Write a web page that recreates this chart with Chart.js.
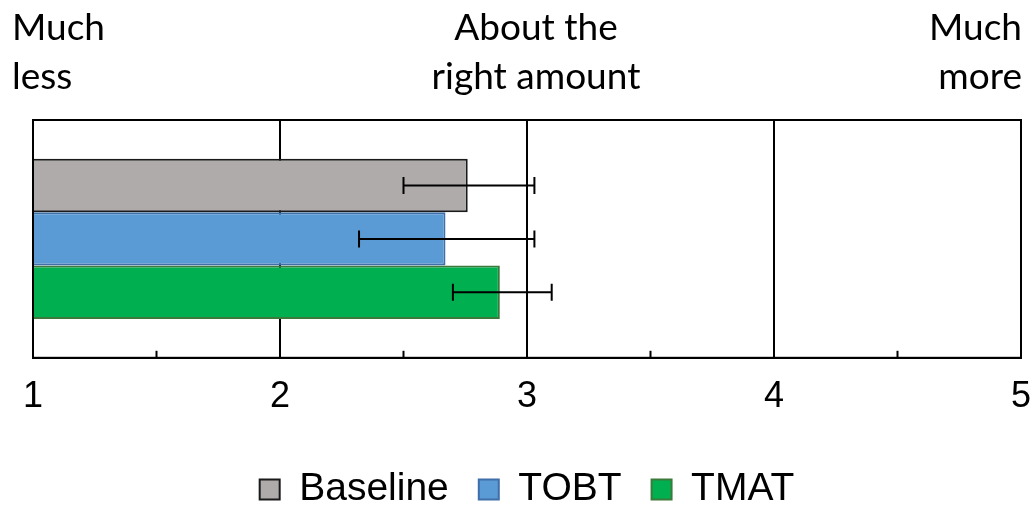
<!DOCTYPE html>
<html>
<head>
<meta charset="utf-8">
<script src="https://cdn.jsdelivr.net/npm/chart.js@4"></script>
<style>
  html, body { margin: 0; padding: 0; background: #fff; }
  #wrap { width: 1032px; height: 505px; }
</style>
</head>
<body>
<div id="wrap"><canvas id="chart" width="1032" height="505"></canvas></div>
<script>
// Data
const categories = [''];
const seriesNames = ['Baseline', 'TOBT', 'TMAT'];
const means = [2.76, 2.67, 2.89];
const errLow = [2.50, 2.32, 2.70];
const errHigh = [3.03, 3.03, 3.10];
const fillColors = ['#AFABAB', '#5B9BD5', '#00B050'];
const edgeColors = ['#1a1a1a', '#3F6FA8', '#3B7A3B'];
const tickValues = [1, 2, 3, 4, 5];
const minorTicks = [1.5, 2.5, 3.5, 4.5];
const topLabelValues = [1, 3, 5];
const topLabels = [['Much', 'less'], ['About the', 'right amount'], ['Much', 'more']];

const datasets = seriesNames.map((name, i) => ({
    label: name,
    data: [means[i]],
    base: 1,
    backgroundColor: fillColors[i],
    borderColor: edgeColors[i],
    borderWidth: 2,
    borderSkipped: 'start',
    categoryPercentage: 0.674,
    barPercentage: 1.0
}));

// frame, minor tick marks, error bars and the top scale labels
const extrasPlugin = {
    id: 'extras',
    afterDatasetsDraw(chart) {
        const ctx = chart.ctx;
        const x = chart.scales.x;
        const area = chart.chartArea;

        ctx.save();
        // error bars
        ctx.strokeStyle = '#000';
        ctx.lineWidth = 2;
        chart.data.datasets.forEach((ds, i) => {
            const bar = chart.getDatasetMeta(i).data[0];
            const y = bar.y;
            const x0 = x.getPixelForValue(errLow[i]);
            const x1 = x.getPixelForValue(errHigh[i]);
            ctx.beginPath();
            ctx.moveTo(x0, y);
            ctx.lineTo(x1, y);
            ctx.moveTo(x0, y - 8.5);
            ctx.lineTo(x0, y + 8.5);
            ctx.moveTo(x1, y - 8.5);
            ctx.lineTo(x1, y + 8.5);
            ctx.stroke();
        });

        // minor ticks pointing up from the axis
        minorTicks.forEach(v => {
            const px = x.getPixelForValue(v);
            ctx.beginPath();
            ctx.moveTo(px, area.bottom);
            ctx.lineTo(px, area.bottom - 7);
            ctx.stroke();
        });

        // frame
        ctx.strokeRect(area.left, area.top, area.right - area.left, area.bottom - area.top);

        // labels above the plot
        ctx.fillStyle = '#000';
        ctx.font = '37px Lato';
        ctx.textBaseline = 'alphabetic';
        topLabelValues.forEach((v, i) => {
            const px = x.getPixelForValue(v);
            let tx = px;
            if (i === 0) { ctx.textAlign = 'left'; tx = px - 21; }
            else if (i === topLabelValues.length - 1) { ctx.textAlign = 'right'; tx = px + 1; }
            else { ctx.textAlign = 'center'; tx = px + 9; }
            topLabels[i].forEach((line, j) => {
                ctx.fillText(line, tx, 40 + j * 49);
            });
        });
        ctx.restore();
    }
};

new Chart(document.getElementById('chart').getContext('2d'), {
    type: 'bar',
    data: {
        labels: categories,
        datasets: datasets
    },
    options: {
        indexAxis: 'y',
        responsive: false,
        animation: false,
        layout: {
            padding: { top: 120, left: 33, right: 11, bottom: -14 }
        },
        scales: {
            x: {
                type: 'linear',
                min: 1,
                max: 5,
                afterBuildTicks: axis => {
                    axis.ticks = tickValues.map(v => ({ value: v }));
                },
                afterFit: axis => {
                    axis.paddingLeft = 0;
                    axis.paddingRight = 0;
                    axis.height += 3;
                },
                grid: {
                    color: '#000',
                    lineWidth: 2,
                    drawTicks: false
                },
                border: { display: true, color: '#000', width: 2 },
                ticks: {
                    color: '#000',
                    padding: 18,
                    font: { family: 'Liberation Sans', size: 36 }
                }
            },
            y: {
                display: false
            }
        },
        plugins: {
            legend: {
                position: 'bottom',
                labels: {
                    color: '#000',
                    boxWidth: 20,
                    boxHeight: 20,
                    padding: 30,
                    font: { family: 'Liberation Sans', size: 39 }
                }
            },
            tooltip: { enabled: false }
        }
    },
    plugins: [extrasPlugin]
});
</script>
</body>
</html>
